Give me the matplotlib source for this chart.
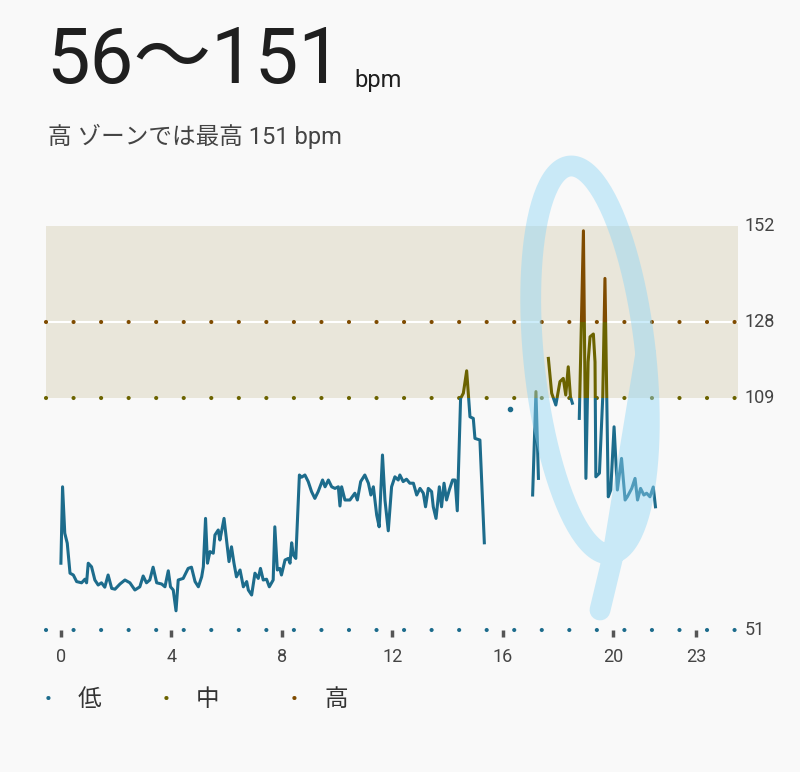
import numpy as np
import matplotlib
matplotlib.use("Agg")
import matplotlib.pyplot as plt
from matplotlib.patches import Rectangle

plt.rcParams['font.family'] = ['Roboto', 'Noto Sans CJK JP', 'DejaVu Sans']

hours = [0.0,0.06,0.14,0.23,0.33,0.45,0.57,0.75,0.87,0.93,0.99,1.11,1.23,1.35,1.47,1.59,1.71,1.84,1.96,2.14,2.32,2.50,2.68,2.86,2.98,3.10,3.22,3.34,3.47,3.65,3.77,3.89,3.97,4.07,4.17,4.25,4.43,4.61,4.73,4.86,4.98,5.10,5.16,5.24,5.31,5.40,5.52,5.58,5.70,5.76,5.82,5.91,6.00,6.09,6.18,6.27,6.36,6.49,6.61,6.73,6.79,6.91,7.03,7.15,7.23,7.33,7.45,7.55,7.69,7.75,7.84,7.93,7.99,8.12,8.24,8.30,8.36,8.42,8.51,8.64,8.72,8.84,8.96,9.08,9.20,9.32,9.48,9.57,9.69,9.81,9.93,10.05,10.11,10.17,10.29,10.47,10.65,10.74,10.86,11.01,11.14,11.23,11.32,11.44,11.53,11.65,11.74,11.86,11.98,12.10,12.22,12.28,12.40,12.52,12.64,12.77,12.89,13.01,13.13,13.21,13.31,13.43,13.49,13.59,13.71,13.79,13.88,13.97,14.07,14.19,14.28,14.36,14.48,14.58,14.70,14.82,14.94,15.00,15.18,15.34,
         15.6,
         17.09,17.21,17.30,
         17.5,
         17.66,17.78,17.93,18.08,18.20,18.29,18.38,18.46,18.53,
         18.65,
         18.78,18.93,19.02,19.10,19.17,19.29,19.35,19.38,19.51,19.63,19.71,19.83,19.92,20.04,20.16,20.31,20.44,20.52,20.68,20.80,20.89,21.00,21.12,21.22,21.34,21.46,21.54]
bpm = [67.7,86.8,75.2,72.7,65.2,64.75,63.1,62.8,63.7,62.8,67.7,66.8,63.5,62.25,62.8,61.7,64.75,61.4,61.2,62.5,63.5,62.8,61.0,61.8,64.5,62.8,63.5,66.7,62.8,62.5,61.8,65.8,61.8,61.0,55.8,63.5,63.9,66.4,66.7,63.1,61.8,64.3,66.8,78.9,67.7,70.6,70.2,74.75,76.0,73.5,75.6,78.9,73.5,68.1,71.8,67.7,64.3,66.0,61.8,63.1,61.0,59.75,65.2,63.9,66.4,63.5,63.7,61.8,63.5,76.8,66.0,66.4,64.75,68.5,68.9,67.7,72.8,69.75,68.9,89.75,89.2,89.75,88.1,85.6,83.9,85.6,88.5,86.8,88.5,86.8,86.4,86.8,82.0,86.8,83.5,83.5,85.2,83.5,88.1,89.75,87.7,84.75,86.8,79.75,76.8,94.75,83.5,75.8,86.8,89.3,88.5,89.75,88.1,88.7,87.7,87.7,84.75,86.4,85.2,81.8,86.4,85.6,81.8,78.9,86.8,81.8,87.7,83.5,86.0,88.5,88.5,80.8,108.9,110.2,115.8,104.3,103.9,98.9,98.5,72.8,
       np.nan,
       84.75,110.6,88.9,
       np.nan,
       118.9,110.2,107.25,113.1,113.9,109.75,116.8,109.3,107.7,
       np.nan,
       103.9,150.8,88.9,118.0,124.3,125.0,118.0,89.3,90.2,109.3,138.9,84.3,86.0,101.8,86.0,93.9,83.5,84.3,86.4,88.9,83.5,86.4,84.75,85.2,84.3,86.75,81.8]
dot_hour = [16.27]
dot_bpm = [106.2]

zone_low, zone_mid, zone_high, zone_top = 51, 109, 128, 152
tick_hours = [0, 4, 8, 12, 16, 20, 23]
right_labels = [152, 128, 109, 51]

TEAL = '#1d6c8c'
OLIVE = '#6b6300'
BROWN = '#7f4b00'
BG = '#f9f9f9'

fig = plt.figure(figsize=(8, 7.72), dpi=100, facecolor=BG)
ax = fig.add_axes([46/800, (772-630)/772, 692/800, 404/772], facecolor=BG)
ax.set_xlim(-0.54, 24.53)
ax.set_ylim(zone_low, zone_top)

ax.axhspan(zone_mid, zone_top, color='#e9e6da', zorder=0, lw=0)

dash = (0, (0.01, 6.6))
for y, c in [(zone_high, BROWN), (zone_mid, OLIVE), (zone_low, TEAL)]:
    ax.axhline(y, color=c, lw=3, linestyle=dash, dash_capstyle='round', clip_on=False, zorder=1)
ax.axhline(zone_high, color='white', lw=1.5, zorder=0.5)

for lo, hi, c in [(0, zone_mid, TEAL), (zone_mid, zone_high, OLIVE), (zone_high, 200, BROWN)]:
    ln, = ax.plot(hours, bpm, color=c, lw=2.2, solid_joinstyle='round', zorder=3)
    r = Rectangle((-5, lo), 40, hi - lo, transform=ax.transData)
    ln.set_clip_path(r)
ax.plot(dot_hour, dot_bpm, 'o', color=TEAL, ms=3, zorder=3)

for s in ax.spines.values():
    s.set_visible(False)
ax.set_yticks([])
ax.set_xticks(tick_hours)
ax.set_xticklabels([str(h) for h in tick_hours], fontsize=13, color='#444444')
ax.tick_params(axis='x', length=5, width=2.5, color='#555555', pad=8)
for v in right_labels:
    ax.text(1.01, (v - zone_low) / (zone_top - zone_low), str(v), transform=ax.transAxes,
            va='center', ha='left', fontsize=13, color='#444444')

fig.text(46/800, 1 - 62/772, '56〜151', fontsize=56, va='center', ha='left', color='#1f1f1f')
fig.text(354/800, 1 - 80/772, 'bpm', fontsize=17, va='center', ha='left', color='#1f1f1f')
fig.text(48/800, 1 - 136/772, '高 ゾーンでは最高 151 bpm', fontsize=17, va='center', ha='left', color='#444444')

for x, lab, c in [(48, '低', TEAL), (166, '中', OLIVE), (294, '高', BROWN)]:
    fig.text(x/800, 1 - 700/772, '•', fontsize=15, color=c, va='center', ha='center')
    fig.text((x + 30)/800, 1 - 700/772, lab, fontsize=17, color='#333333', va='center', ha='left')

# hand-drawn highlight loop (figure pixel coordinates)
t = np.linspace(0, 2 * np.pi, 200)
cx, cy, rx, ry, rot = 590, 360, 56, 195, np.radians(-6)
ex = cx + rx * np.cos(t) * np.cos(rot) - ry * np.sin(t) * np.sin(rot)
ey = cy + rx * np.cos(t) * np.sin(rot) + ry * np.sin(t) * np.cos(rot)
ex = np.concatenate([ex, [612, 600]])
ey = np.concatenate([ey, [560, 610]])
fig.add_artist(plt.Line2D(ex / 800, 1 - ey / 772, transform=fig.transFigure, color='#8fd6f5',
                          alpha=0.45, lw=15, solid_capstyle='round', solid_joinstyle='round'))

fig.savefig('out.png', dpi=100, facecolor=BG)
